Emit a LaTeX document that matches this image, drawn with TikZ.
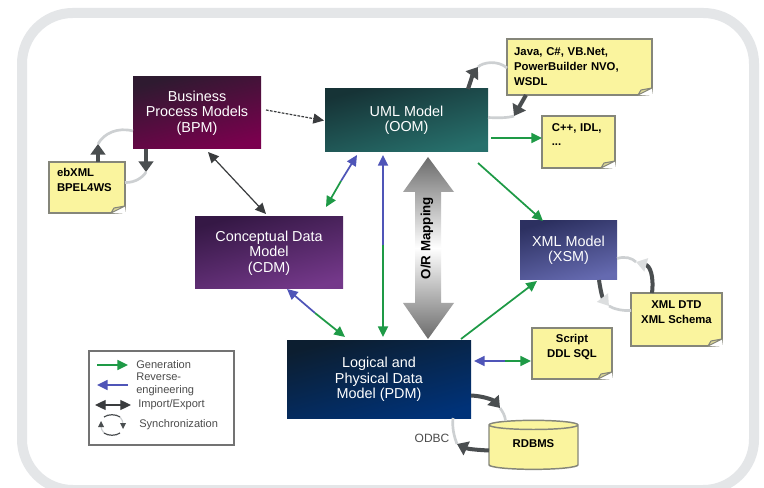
\documentclass[tikz,border=0pt]{standalone}
\usepackage{fontspec}
\setmainfont{Liberation Sans}
\usetikzlibrary{arrows.meta,shapes.geometric,calc}
\definecolor{gen}{HTML}{1E9A46}
\definecolor{rev}{HTML}{4F55B8}
\definecolor{dk}{HTML}{3A3C3E}
\definecolor{syncd}{HTML}{4A4E50}
\definecolor{syncl}{HTML}{CDD0D2}
\definecolor{notef}{HTML}{FAF49E}
\definecolor{notel}{HTML}{85867A}
\definecolor{band}{HTML}{E4E6E8}
\definecolor{bpmA}{HTML}{2E1A30}\definecolor{bpmB}{HTML}{7A004E}
\definecolor{umlA}{HTML}{163336}\definecolor{umlB}{HTML}{27706C}
\definecolor{cdmA}{HTML}{351845}\definecolor{cdmB}{HTML}{74388A}
\definecolor{xsmA}{HTML}{2C3060}\definecolor{xsmB}{HTML}{656AB0}
\definecolor{pdmA}{HTML}{0C1E30}\definecolor{pdmB}{HTML}{003278}
\tikzset{
  model/.style 2 args={rectangle,inner sep=0pt,outer sep=0pt,text=white,align=center,
    font=\fontsize{10.8}{11.6}\selectfont,
    top color=#1,bottom color=#2,shading=axis,shading angle=15},
  notebox/.style={rectangle,inner sep=0pt,outer sep=0pt,fill=notef,draw=notel,line width=1.1pt,
    font=\fontsize{8.5}{11.2}\bfseries\selectfont,text=black},
  foldfill/.style={fill=white},
  foldline/.style={draw=notel,fill=notef!75!gray,line width=.8pt,line join=round},
  genarrow/.style={draw=gen,line width=1.3pt,-{Triangle[length=8pt,width=7.5pt]}},
  revarrow/.style={draw=rev,line width=1.3pt,-{Triangle[length=8pt,width=7.5pt]}},
  iearrow/.style={draw=dk,line width=.9pt,{Triangle[length=8pt,width=7.5pt]}-{Triangle[length=8pt,width=7.5pt]}},
  syncdark/.style={draw=syncd,line width=3pt,-{Triangle[length=8pt,width=11pt]}},
  syncpale/.style={draw=syncd,line width=3pt,-{Triangle[length=8pt,width=10pt,color=syncl!70]}},
  synclight/.style={draw=syncl,line width=2pt},
  legtext/.style={inner sep=0pt,anchor=west,text=black!70,align=left,font=\fontsize{8.3}{9.6}\selectfont},
}
\newcommand{\notefold}[1]{%
  \path[foldfill] ($(#1.south east)+(-14,0)$) -- ($(#1.south east)+(0,-7)$) -- ($(#1.south east)+(1,1)$) -- cycle;
  \draw[foldline] ($(#1.south east)+(-14,0)$) -- ($(#1.south east)+(0,-7)$) -- ($(#1.south east)+(-11,-5)$) -- cycle;
}
\begin{document}
\begin{tikzpicture}[x=0.75pt,y=-0.75pt]
\useasboundingbox (0,0) rectangle (764,488);
\fill[white] (0,0) rectangle (764,488);
\draw[band,line width=7.5pt,rounded corners=38pt] (22,13) rectangle (754,490);

% big O/R arrow
\shade[top color=black!58,bottom color=black!58,middle color=white]
  (428,157) -- (454,192) -- (441,192) -- (441,303) -- (454,303) -- (428,339)
  -- (403,303) -- (415,303) -- (415,192) -- (403,192) -- cycle;
\node[rotate=90,inner sep=0pt,font=\fontsize{10}{12}\bfseries\selectfont] (ormap) at (427,238) {O/R Mapping};

% models
\node[model={bpmA}{bpmB},minimum width=96pt,minimum height=54pt] (bpm) at (197,113) {Business\\Process Models\\(BPM)};
\node[model={umlA}{umlB},minimum width=122.25pt,minimum height=47.25pt] (uml) at (406.5,120.5) {UML Model\\(OOM)};
\node[model={cdmA}{cdmB},minimum width=111pt,minimum height=54pt] (cdm) at (269,253) {Conceptual Data\\Model\\(CDM)};
\node[model={xsmA}{xsmB},minimum width=72.75pt,minimum height=44.25pt] (xsm) at (568.5,250.5) {XML Model\\(XSM)};
\node[model={pdmA}{pdmB},minimum width=138pt,minimum height=57.75pt] (pdm) at (379,379.5) {Logical and\\Physical Data\\Model (PDM)};

% notes
\node[notebox,minimum width=108.75pt,minimum height=42pt,text width=98pt,align=left] (java) at (579.5,67) {Java, C\#, VB.Net,\\PowerBuilder NVO,\\WSDL};
\node[notebox,minimum width=54.75pt,minimum height=39pt,text width=40pt,align=left] (cpp) at (578.5,142) {C++, IDL,\\...\\~};
\node[notebox,minimum width=57pt,minimum height=38.25pt,text width=45pt,align=left] (ebxml) at (87,187.5) {ebXML\\BPEL4WS\\~};
\node[notebox,minimum width=68.25pt,minimum height=39.75pt,align=center] (dtd) at (676.5,319.5) {XML DTD\\XML Schema\\~};
\node[notebox,minimum width=60pt,minimum height=38.25pt,align=center] (script) at (572,353.5) {Script\\DDL SQL\\~};
\notefold{java}\notefold{cpp}\notefold{ebxml}\notefold{dtd}\notefold{script}

% database
\node[cylinder,shape border rotate=90,aspect=.22,draw=notel,fill=notef,line width=1.1pt,inner sep=0pt,outer sep=0pt,align=center,
  minimum width=66.75pt,minimum height=36.75pt,font=\fontsize{8.5}{10}\bfseries\selectfont] (rdbms) at (533.5,447.5) {RDBMS\\[-4pt]~};

% generation / reverse / import connectors
\draw[iearrow,dash pattern=on 2pt off 1pt,{-{Triangle[length=8pt,width=7.5pt]}}] ($(bpm.east)+(5,-3)$) -- ($(uml.west)+(-1,0)$);
\draw[iearrow] ($(bpm.south)+(11,3)$) -- ($(cdm.north)+(-3,-3)$);
\coordinate (cu) at (341,181);
\draw[revarrow] (cu) -- ($(uml.south west)+(32,3)$);
\draw[genarrow] (cu) -- ($(cdm.north east)+(-17,-10)$);
\coordinate (up) at (383,245);
\draw[revarrow] (up) -- ($(uml.south)+(-23.5,3)$);
\draw[genarrow] (up) -- ($(pdm.north)+(4,-4)$);
\draw[genarrow] ($(uml.east)+(3,17.5)$) -- ($(cpp.west)+(0,-4)$);
\draw[genarrow] ($(uml.south east)+(-10,11)$) -- ($(xsm.north west)+(23,0)$);
\draw[genarrow] ($(pdm.north east)+(-10,-2)$) -- ($(xsm.south west)+(17,1)$);
\coordinate (cp) at (315,313);
\draw[revarrow] (cp) -- ($(cdm.south)+(18,0)$);
\draw[genarrow] (cp) -- ($(pdm.north west)+(58,-4)$);
\coordinate (ps) at (505,361);
\draw[revarrow] (ps) -- ($(pdm.north east)+(3,20)$);
\draw[genarrow] (ps) -- ($(script.west)+(-1,7.5)$);

% synchronisation arcs
\coordinate (s1) at (98,144); \coordinate (s2) at (146,172);
\draw[synclight] ($(bpm.west)+(0,18)$) .. controls (118,127) and (104,133) .. (s1);
\draw[syncdark] ($(ebxml.north)+(11,0)$) -- (s1);
\draw[syncdark] ($(bpm.south west)+(13,0)$) -- (s2);
\draw[synclight] (s2) .. controls (144,176) and (136,183) .. ($(ebxml.east)+(0,-5)$);

\coordinate (s3) at (478,67); \coordinate (s4) at (514,116);
\draw[syncdark] ($(uml.north east)+(-20,0)$) .. controls (471,80) and (473,74) .. (s3);
\draw[synclight] (s3) .. controls (483,62) and (498,60) .. ($(java.west)+(0,1)$);
\draw[syncdark] ($(java.south west)+(19,0)$) -- (s4);
\draw[synclight] (s4) .. controls (508,118) and (498,118) .. ($(uml.east)+(0,-3)$);

\coordinate (s5) at (636,262); \coordinate (s6) at (609,306);
\draw[synclight] ($(xsm.east)+(0,8)$) .. controls (625,256) and (632,258) .. (s5);
\draw[syncpale] ($(dtd.north west)+(21,0)$) .. controls (654,276) and (650,266) .. (s5);
\draw[syncpale] ($(xsm.south west)+(79,0)$) .. controls (600,287) and (602,297) .. (s6);
\draw[synclight] (s6) .. controls (614,309) and (622,311) .. ($(dtd.west)+(0,-9)$);

\coordinate (s7) at (500,408); \coordinate (s8) at (457,444);
\draw[syncdark] ($(pdm.east)+(0,16)$) .. controls (483,396) and (493,400) .. (s7);
\draw[synclight] (s7) .. controls (503,412) and (505,416) .. ($(rdbms.north)+(-28,0)$);
\draw[syncdark] ($(rdbms.west)+(0,3)$) .. controls (478,450) and (468,449) .. (s8);
\draw[synclight] (s8) .. controls (454,436) and (452,428) .. ($(pdm.south east)+(-18,0)$);
\node[inner sep=0pt,text=black!70,font=\fontsize{9}{10}\selectfont] (odbc) at (432,438) {ODBC};

% legend
\node[rectangle,draw=black!55,line width=.9pt,fill=white,minimum width=108.75pt,minimum height=70.5pt,inner sep=0pt,outer sep=0pt] (legend) at (161.5,398) {};
\node[legtext] (lg) at (136,365) {Generation};
\node[legtext] (lr) at (136,384) {Reverse-\\engineering};
\node[legtext] (li) at (138,405) {Import/Export};
\node[legtext] (ls) at (139,425) {Synchronization};
\draw[genarrow] ($(lg.west)+(-39,0)$) -- ($(lg.west)+(-8,0)$);
\draw[revarrow] ($(lr.west)+(-8,1)$) -- ($(lr.west)+(-39,1)$);
\draw[iearrow] ($(li.west)+(-43,0)$) -- ($(li.west)+(-7,0)$);
\coordinate (lsc) at ($(ls.west)+(-27,0)$);
\draw[syncd,line width=.9pt] ($(lsc)+(-8,-8)$) .. controls ($(lsc)+(-4,-11)$) and ($(lsc)+(4,-11)$) .. ($(lsc)+(8,-8)$);
\draw[syncl,line width=.9pt] ($(lsc)+(8,-8)$) .. controls ($(lsc)+(10,-6)$) and ($(lsc)+(11,-3)$) .. ($(lsc)+(11,-1)$);
\draw[syncd,line width=.9pt] ($(lsc)+(8,8)$) .. controls ($(lsc)+(4,11)$) and ($(lsc)+(-4,11)$) .. ($(lsc)+(-8,8)$);
\draw[syncl,line width=.9pt] ($(lsc)+(-8,8)$) .. controls ($(lsc)+(-10,6)$) and ($(lsc)+(-11,3)$) .. ($(lsc)+(-11,1)$);
\fill[syncd] ($(lsc)+(-14,2)$) -- ($(lsc)+(-8,2)$) -- ($(lsc)+(-11,-4)$) -- cycle;
\fill[syncd] ($(lsc)+(14,-2)$) -- ($(lsc)+(8,-2)$) -- ($(lsc)+(11,4)$) -- cycle;
\end{tikzpicture}
\end{document}
